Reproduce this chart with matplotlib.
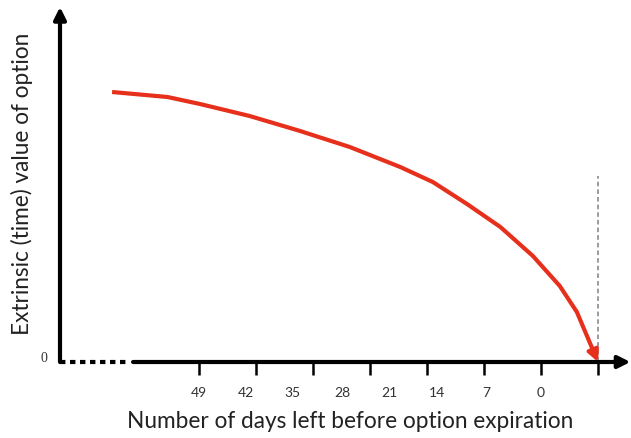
import matplotlib
matplotlib.use("Agg")
import matplotlib.pyplot as plt
import matplotlib.transforms as mtransforms

# days left before expiration (inverted axis) and extrinsic value
days = [59.7, 52.9, 48.9, 42.8, 36.6, 30.5, 24.3, 20.3, 16.1, 12.0, 8.0, 4.7, 2.6, 1.2, 0.0]
value = [2.70, 2.65, 2.58, 2.46, 2.31, 2.15, 1.95, 1.80, 1.58, 1.35, 1.06, 0.76, 0.50, 0.23, 0.0]

tick_days = [49, 42, 35, 28, 21, 14, 7, 0]
label_pos = [49.0, 43.2, 37.5, 31.4, 25.6, 19.8, 13.7, 7.0]
tick_labels = ["49", "42", "35", "28", "21", "14", "7", "0"]

plt.rcParams['font.family'] = ['Lato', 'DejaVu Sans']

fig = plt.figure(figsize=(6.31, 4.39), dpi=100)
ax = fig.add_axes([60/631, 76/439, 571/631, 355/439])
ax.set_xlim(66.1, -4.05)
ax.set_ylim(0, 3.55)
for s in ax.spines.values():
	s.set_visible(False)

# axes drawn by hand: y arrow, dotted + solid x arrow
ax.annotate("", xy=(0, 1), xytext=(0, 0), xycoords='axes fraction',
	arrowprops=dict(arrowstyle='-|>', lw=3, color='black', mutation_scale=18, shrinkA=0, shrinkB=0))
ax.plot([0, 0.123], [0, 0], transform=ax.transAxes, color='black', lw=3,
	linestyle=(0, (1.3, 1.1)), solid_capstyle='butt', clip_on=False)
ax.annotate("", xy=(0.999, 0), xytext=(0.128, 0), xycoords='axes fraction',
	arrowprops=dict(arrowstyle='-|>', lw=3, color='black', mutation_scale=18, shrinkA=0, shrinkB=0))

# dashed line at expiration
ax.plot([0, 0], [0, 1.86], color='#808080', lw=1.1, linestyle=(0, (3, 2)))

# time decay curve
red = '#e6301c'
ax.plot(days[:-1], value[:-1], color=red, lw=3, solid_capstyle='butt', solid_joinstyle='round')
ax.annotate("", xy=(days[-1], value[-1]), xytext=(days[-2], value[-2]),
	arrowprops=dict(arrowstyle='-|>', lw=3, color=red, mutation_scale=16, shrinkA=0, shrinkB=0))

# major ticks carry the marks, labels sit on minor ticks (offset in original)
ax.xaxis.remove_overlapping_locs = False
ax.set_xticks(tick_days)
ax.set_xticklabels([""] * len(tick_days))
ax.tick_params(axis='x', which='major', length=9.5, width=1.8, direction='out', color='black')
ax.set_xticks(label_pos, minor=True)
ax.set_xticklabels(tick_labels, minor=True)
ax.tick_params(axis='x', which='minor', length=0, pad=17, labelsize=10, labelcolor='#333333')

ax.set_yticks([0])
ax.set_yticklabels(["0"], family='Liberation Serif', fontsize=10, color='#333333')
ax.tick_params(axis='y', length=0, pad=9)
off = mtransforms.ScaledTranslation(0, 6/100, fig.dpi_scale_trans)
for lab in ax.get_yticklabels():
	lab.set_transform(lab.get_transform() + off)

ax.set_xlabel("Number of days left before option expiration", fontsize=16.3, color='#222222', va='center')
ax.xaxis.set_label_coords(0.508, -0.166)
ax.set_ylabel("Extrinsic (time) value of option", fontsize=16.3, color='#222222', va='center')
ax.yaxis.set_label_coords(-0.0665, 0.504)

fig.savefig("out.png", dpi=100)
